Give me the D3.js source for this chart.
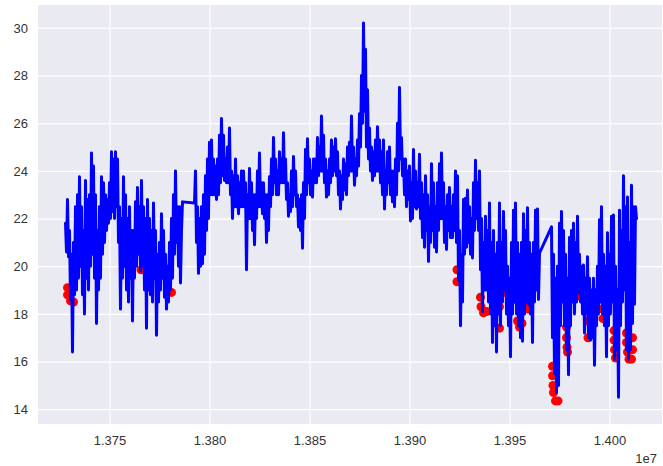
<!DOCTYPE html>
<html><head><meta charset="utf-8">
<script src="https://cdn.jsdelivr.net/npm/d3@7"></script>
<style>body{margin:0;background:#fff}text{font-family:"Liberation Sans",Arial,sans-serif;fill:#333}</style>
</head><body><div id="chart"></div>
<script>
// time in thousands of seconds (axis shows t*1000 with 1e7 offset), temperature
const readingsEarly = [
[13728,21.8],[13728.5,20.6],[13729,22.8],[13729.5,20.4],[13730,21.5],[13730.5,18.6],[13731,20.5],[13731.5,16.4],[13732,21.0],[13732.5,18.8],
[13733,22.5],[13733.5,19.0],[13734,23.0],[13734.5,19.5],[13735,23.75],[13735.5,20.0],[13736,22.5],[13736.5,18.8],[13737,21.5],[13737.5,18.0],
[13738,23.6],[13738.5,19.5],[13739,22.8],[13739.5,19.0],[13740,23.0],[13740.5,20.0],[13741,24.75],[13741.5,20.5],[13742,24.2],[13742.5,19.5],
[13743,23.0],[13743.5,17.6],[13744,21.5],[13744.5,19.0],[13745,22.5],[13745.5,19.5],[13746,23.75],[13746.5,20.5],[13747,23.5],[13747.5,21.0],
[13748,23.0],[13748.5,21.5],[13749,22.8],[13749.5,21.8],[13750,23.5],[13750.5,22.0],[13751,24.8],[13751.5,22.3],[13752,24.5],[13752.5,22.0],
[13753,24.8],[13753.5,22.5],[13754,24.5],[13754.5,21.0],[13755,22.5],[13755.5,18.2],[13756,22.0],[13756.5,19.5],[13757,23.75],[13757.5,20.0],
[13758,23.0],[13758.5,19.0],[13759,22.0],[13759.5,18.5],[13760,22.5],[13760.5,19.5],[13761,21.5],[13761.5,17.7],[13762,21.5],[13762.5,19.5],
[13763,22.7],[13763.5,20.0],[13764,23.3],[13764.5,20.5],[13765,22.5],[13765.5,19.8],[13766,23.6],[13766.5,20.0],[13767,22.5],[13767.5,19.0],
[13768,22.0],[13768.5,17.4],[13769,22.8],[13769.5,19.0],[13770,22.0],[13770.5,18.8],[13771,21.5],[13771.5,18.5],[13772,22.65],[13772.5,19.5],
[13773,21.5],[13773.5,17.1],[13774,20.5],[13774.5,18.5],[13775,21.0],[13775.5,19.0],[13776,22.2],[13776.5,19.5],[13777,21.5],[13777.5,18.7],
[13778,20.5],[13778.5,18.2],[13779,20.0],[13779.5,18.5],[13780,21.0],[13780.5,19.0],[13781,22.0],[13781.5,19.5],[13782,23.0],[13782.5,20.5],
[13783,24.0],[13783.5,21.0],[13784,22.5],[13784.5,20.0],[13785,22.5],[13785.5,19.3],[13786,21.5],[13786.5,22.7]
];
const readingsMid = [
[13792.5,22.65],[13793,24.0],[13793.5,21.0],[13794,22.5],[13794.5,19.7],[13795,22.0],[13795.5,20.0],[13796,22.5],[13796.5,20.1],[13797,23.0],
[13797.5,20.5],[13798,23.8],[13798.5,21.5],[13799,24.5],[13799.5,22.0],[13800,25.2],[13800.5,23.0],[13801,25.3],[13801.5,23.0],[13802,24.5],
[13802.5,23.0],[13803,24.2],[13803.5,22.8],[13804,24.5],[13804.5,23.0],[13805,25.5],[13805.5,23.5],[13806,26.2],[13806.5,23.8],[13807,25.5],
[13807.5,23.6],[13808,24.5],[13808.5,23.5],[13809,25.0],[13809.5,23.5],[13810,25.8],[13810.5,23.0],[13811,24.0],[13811.5,22.0],[13812,23.8],
[13812.5,22.5],[13813,24.5],[13813.5,22.5],[13814,23.8],[13814.5,22.2],[13815,23.5],[13815.5,22.5],[13816,24.0],[13816.5,22.5],[13817,24.0],
[13817.5,22.5],[13818,23.5],[13818.5,19.85],[13819,23.0],[13819.5,22.0],[13820,24.1],[13820.5,22.0],[13821,23.5],[13821.5,21.5],[13822,23.0],
[13822.5,20.9],[13823,23.0],[13823.5,22.0],[13824,24.0],[13824.5,22.5],[13825,24.75],[13825.5,22.5],[13826,23.5],[13826.5,22.2],[13827,23.5],
[13827.5,22.0],[13828,23.0],[13828.5,21.0],[13829,23.0],[13829.5,21.5],[13830,23.75],[13830.5,22.5],[13831,24.5],[13831.5,23.0],[13832,25.4],
[13832.5,23.5],[13833,24.5],[13833.5,23.0],[13834,24.0],[13834.5,23.0],[13835,24.8],[13835.5,23.5],[13836,24.5],[13836.5,23.5],[13837,25.6],
[13837.5,23.5],[13838,24.5],[13838.5,22.8],[13839,23.5],[13839.5,22.1],[13840,23.0],[13840.5,22.3],[13841,24.0],[13841.5,22.5],[13842,24.6],
[13842.5,23.0],[13843,24.0],[13843.5,22.5],[13844,23.0],[13844.5,21.65],[13845,22.8],[13845.5,21.5],[13846,23.0],[13846.5,20.75],[13847,23.5],
[13847.5,22.0],[13848,24.9],[13848.5,23.0],[13849,25.35],[13849.5,23.5],[13850,24.5],[13850.5,23.0],[13851,24.0],[13851.5,22.9],[13852,24.5],
[13852.5,23.5],[13853,24.5],[13853.5,23.5],[13854,25.4],[13854.5,23.8],[13855,25.0],[13855.5,24.0],[13856,26.3],[13856.5,24.0],[13857,25.5],
[13857.5,23.5],[13858,24.5],[13858.5,22.9],[13859,24.0],[13859.5,23.0],[13860,24.5],[13860.5,23.5],[13861,25.3],[13861.5,23.8],[13862,25.0],
[13862.5,24.0],[13863,25.35],[13863.5,23.8],[13864,24.8],[13864.5,23.0],[13865,24.0],[13865.5,22.4],[13866,23.8],[13866.5,22.8],[13867,24.5],
[13867.5,23.2],[13868,24.3],[13868.5,23.0],[13869,25.0],[13869.5,23.8],[13870,25.2],[13870.5,24.0],[13871,26.3],[13871.5,24.0],[13872,25.0],
[13872.5,23.4],[13873,24.5],[13873.5,23.8],[13874,25.3],[13874.5,24.2],[13875,26.4],[13875.5,25.0],[13876,28.0],[13876.5,26.0],[13877,30.2],
[13877.5,26.5],[13878,29.1],[13878.5,25.0],[13879,27.4],[13879.5,24.5],[13880,25.8],[13880.5,24.0],[13881,25.0],[13881.5,23.6],[13882,24.8],
[13882.5,23.8],[13883,25.3],[13883.5,24.0],[13884,25.85],[13884.5,24.0],[13885,25.3],[13885.5,23.5],[13886,24.8],[13886.5,23.0],[13887,25.3],
[13887.5,22.4],[13888,24.0],[13888.5,23.0],[13889,24.8],[13889.5,23.5],[13890,25.0],[13890.5,23.0],[13891,24.0],[13891.5,22.7],[13892,24.0],
[13892.5,22.5],[13893,24.5],[13893.5,23.0],[13894,26.0],[13894.5,24.0],[13895,27.5],[13895.5,24.5],[13896,25.4],[13896.5,23.8],[13897,24.5],
[13897.5,23.0],[13898,24.5],[13898.5,22.5],[13899,24.0],[13899.5,22.8],[13900,24.2],[13900.5,21.9],[13901,23.5],[13901.5,22.0],[13902,24.9],
[13902.5,22.5],[13903,24.0],[13903.5,22.4],[13904,23.5],[13904.5,22.5],[13905,24.7],[13905.5,22.0],[13906,23.5],[13906.5,21.2],[13907,23.0],
[13907.5,20.8],[13908,23.8],[13908.5,21.5],[13909,23.0],[13909.5,20.2],[13910,22.5],[13910.5,21.0],[13911,24.3],[13911.5,21.5],[13912,23.5],
[13912.5,20.8],[13913,22.5],[13913.5,20.6],[13914,23.5],[13914.5,21.5],[13915,24.3],[13915.5,22.0],[13916,24.75],[13916.5,22.0],[13917,23.5],
[13917.5,21.0],[13918,22.5],[13918.5,20.7],[13919,23.0],[13919.5,21.5],[13920,23.3]
];
const readingsLate = [
[13920.5,21.2],[13921,22.5],[13921.5,21.2],[13922,23.0],[13922.5,21.5],[13923,24.0],[13923.5,21.0],[13924,23.8],[13924.5,19.4],[13925,21.5],
[13925.5,17.5],[13926,20.5],[13926.5,18.5],[13927,22.8],[13927.5,20.5],[13928,22.85],[13928.5,20.8],[13929,23.2],[13929.5,21.0],[13930,22.5],
[13930.5,20.5],[13931,22.0],[13931.5,20.35],[13932,23.5],[13932.5,21.5],[13933,24.45],[13933.5,22.0],[13934,23.5],[13934.5,21.5],[13935,24.0],
[13935.5,19.85],[13936,22.0],[13936.5,18.1],[13937,21.0],[13937.5,19.0],[13938,22.1],[13938.5,19.0],[13939,21.5],[13939.5,18.5],[13940,22.65],
[13940.5,18.0],[13941,21.0],[13941.5,16.8],[13942,21.5],[13942.5,17.5],[13943,20.5],[13943.5,16.4],[13944,21.0],[13944.5,18.0],[13945,22.65],
[13945.5,17.5],[13946,21.0],[13946.5,18.5],[13947,22.3],[13947.5,19.0],[13948,21.5],[13948.5,18.0],[13949,20.0],[13949.5,17.5],[13950,19.5],
[13950.5,16.2],[13951,21.0],[13951.5,18.0],[13952,22.35],[13952.5,18.5],[13953,22.65],[13953.5,18.0],[13954,21.0],[13954.5,17.5],[13955,20.5],
[13955.5,17.0],[13956,21.0],[13956.5,16.85],[13957,22.2],[13957.5,18.0],[13958,21.5],[13958.5,18.5],[13959,22.45],[13959.5,18.4],[13960,21.0],
[13960.5,18.0],[13961,20.5],[13961.5,16.8],[13962,21.0],[13962.5,18.5],[13963,22.35],[13963.5,19.0],[13964,22.4],[13964.5,18.6],[13965,20.55],
[13971,21.65],[13971.5,17.0],[13972,20.5],[13972.5,15.5],[13973,19.5],[13973.5,14.7],[13974,20.0],[13974.5,15.0],[13975,21.8],[13975.5,17.5],
[13976,22.3],[13976.5,18.5],[13977,21.5],[13977.5,17.5],[13978,20.5],[13978.5,16.5],[13979,19.5],[13979.5,15.45],[13980,21.2],[13980.5,17.5],
[13981,21.5],[13981.5,18.5],[13982,21.8],[13982.5,18.0],[13983,21.0],[13983.5,18.5],[13984,22.1],[13984.5,18.9],[13985,20.5],[13985.5,18.5],
[13986,20.0],[13986.5,18.0],[13987,20.05],[13987.5,17.2],[13988,19.5],[13988.5,18.0],[13989,20.4],[13989.5,17.0],[13990,19.5],[13990.5,16.9],
[13991,19.0],[13991.5,17.0],[13992,19.5],[13992.5,15.85],[13993,19.0],[13993.5,17.5],[13994,20.0],[13994.5,18.0],[13995,21.95],[13995.5,18.5],
[13996,22.5],[13996.5,18.0],[13997,20.5],[13997.5,17.5],[13998,20.0],[13998.5,16.2],[13999,21.4],[13999.5,17.5],[14000,20.5],[14000.5,18.0],
[14001,22.1],[14001.5,18.5],[14002,22.15],[14002.5,16.1],[14003,20.0],[14003.5,16.5],[14004,19.0],[14004.5,14.5],[14005,22.35],[14005.5,17.5],
[14006,21.5],[14006.5,18.5],[14007,23.8],[14007.5,19.0],[14008,22.5],[14008.5,16.5],[14009,22.9],[14009.5,16.1],[14010,21.0],[14010.5,16.5],
[14011,23.4],[14011.5,17.6],[14012,22.5],[14012.5,18.4],[14013,22.5],[14013.5,22.0]
];
const anomalies = [
[13729,19.1],[13729,18.8],[13730.5,18.55],[13732,18.5],[13760,19.9],[13765.75,19.85],[13779,18.9],[13781,18.9],
[13923.75,19.85],[13923.75,19.35],[13935.5,18.7],[13935.75,18.3],[13937,18.05],[13938.5,18.1],
[13945,18.3],[13945,17.4],[13947.5,19.3],[13947.75,18.9],[13953.5,18.6],[13954,17.7],[13955,17.45],[13956.25,17.6],
[13959,18.45],[13959.5,18.2],[13971.5,15.8],[13971.5,15.4],[13971.75,15.0],[13972,14.7],[13973,14.35],[13974.25,14.35],
[13978.5,17.45],[13978.5,17.0],[13978.75,16.6],[13979,16.4],[13984.5,18.75],[13989,17.7],[13989.25,17.0],
[13996.5,18.2],[13996.75,17.8],[14002.25,17.3],[14002.25,16.9],[14002.5,16.5],[14003,16.15],
[14008.5,17.2],[14008.5,16.8],[14009,16.4],[14009.75,16.1],[14011,16.1],[14011.5,16.5],[14011.5,17.0]
];
const xTicks = [13750, 13800, 13850, 13900, 13950, 14000];
const yTicks = [14, 16, 18, 20, 22, 24, 26, 28, 30];

const W = 663, H = 466;
const L = 38, R = 662, T = 5, B = 424;
const series = readingsEarly.concat(readingsMid, readingsLate);

const x = d3.scaleLinear().domain([13714.25, 14026.25]).range([L, R]);
const y = d3.scaleLinear().domain([13.38, 30.96]).range([B, T]);

const svg = d3.select("#chart").append("svg").attr("width", W).attr("height", H);
svg.append("rect").attr("x", L).attr("y", T).attr("width", R - L).attr("height", B - T).attr("fill", "#EAEAF2");
svg.append("defs").append("clipPath").attr("id", "clip").append("rect")
  .attr("x", L).attr("y", T).attr("width", R - L).attr("height", B - T);

const gx = svg.append("g").attr("transform", `translate(0,${B})`)
  .call(d3.axisBottom(x).tickValues(xTicks).tickSize(-(B - T)).tickFormat(d => (d / 10000).toFixed(3)));
const gy = svg.append("g").attr("transform", `translate(${L},0)`)
  .call(d3.axisLeft(y).tickValues(yTicks).tickSize(-(R - L)).tickFormat(d3.format("d")));
[gx, gy].forEach(g => {
  g.select(".domain").remove();
  g.selectAll(".tick line").attr("stroke", "#fff").attr("stroke-width", 1.2);
  g.selectAll(".tick text").attr("font-size", 13).attr("fill", "#333")
    .style("font-family", '"Liberation Sans", Arial, sans-serif');
});
gx.selectAll(".tick text").attr("y", 12).attr("dy", "0.71em");
gy.selectAll(".tick text").attr("x", -10);

const plot = svg.append("g").attr("clip-path", "url(#clip)");
plot.selectAll("circle").data(anomalies).join("circle")
  .attr("cx", d => x(d[0])).attr("cy", d => y(d[1])).attr("r", 4.5).attr("fill", "#ff0000");
plot.append("path").datum(series)
  .attr("fill", "none").attr("stroke", "#0000ff").attr("stroke-width", 3).attr("stroke-linejoin", "round")
  .attr("stroke-linecap", "round")
  .attr("d", d3.line().x(d => x(d[0])).y(d => y(d[1])));

svg.append("text").attr("x", 657).attr("y", 463).attr("text-anchor", "end").attr("font-size", 13).text("1e7");
</script></body></html>
